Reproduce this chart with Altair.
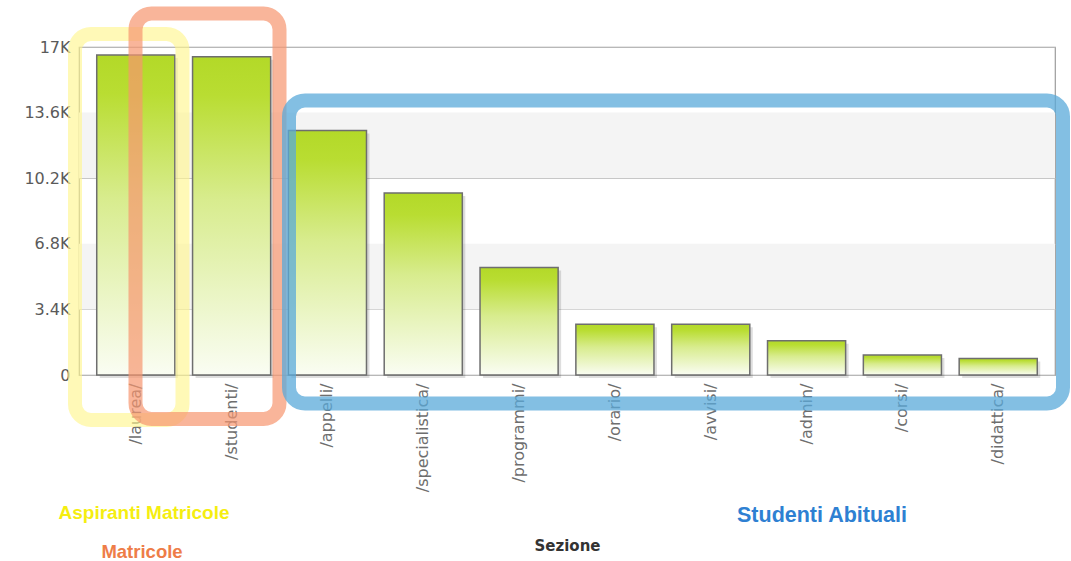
import altair as alt
import pandas as pd

# ---- data ----
sections = ["/laurea/", "/studenti/", "/appelli/", "/specialistica/", "/programmi/",
            "/orario/", "/avvisi/", "/admin/", "/corsi/", "/didattica/"]
visits = [16580, 16490, 12670, 9430, 5570, 2630, 2630, 1770, 1040, 850]
y_ticks = [0, 3400, 6800, 10200, 13600, 17000]
band_low = [3400, 10200]
band_high = [6800, 13600]
group_labels = ["Aspiranti Matricole", "Matricole", "Studenti Abituali"]
x_title = "Sezione"

df = pd.DataFrame({"sezione": sections, "visite": visits})
bands = pd.DataFrame({"lo": band_low, "hi": band_high})

W, H = 976, 328

x_enc = alt.X("sezione:N", sort=sections,
              scale=alt.Scale(paddingInner=0.185, paddingOuter=0.185),
              axis=alt.Axis(title=x_title, labelAngle=270, labelAlign="right",
                            labelBaseline="middle", labelPadding=8, ticks=False,
                            domain=False, grid=False, labelFontSize=16,
                            labelColor="#6e6e6e", labelFont="DejaVu Sans",
                            titleFont="DejaVu Sans", titleFontSize=15,
                            titleFontWeight="bold", titleColor="#333333",
                            titleY=175, titleBaseline="alphabetic"))
y_enc = alt.Y("visite:Q", scale=alt.Scale(domain=[0, 17000], nice=False),
              axis=alt.Axis(title=None, values=y_ticks, grid=True, gridColor="#b8b8b8",
                            ticks=False, domain=False, labelPadding=9,
                            labelFontSize=16, labelColor="#5a5a5a", labelFont="DejaVu Sans",
                            labelExpr="datum.value == 0 ? '0' : format(datum.value/1000, '.1~f') + 'K'"))

band_layer = alt.Chart(bands).mark_rect(color="#f4f4f4").encode(
    x=alt.value(0), x2=alt.value(W),
    y=alt.Y("lo:Q", scale=alt.Scale(domain=[0, 17000], nice=False)),
    y2="hi:Q")

grad = alt.Gradient(gradient="linear", x1=0, x2=0, y1=0, y2=1,
                    stops=[alt.GradientStop(color="#b3d928", offset=0),
                           alt.GradientStop(color="#b9dd32", offset=0.12),
                           alt.GradientStop(color="#d8ec8e", offset=0.45),
                           alt.GradientStop(color="#fafdf3", offset=1)])

shadow = alt.Chart(df).mark_bar(color="#000000", opacity=0.13, xOffset=3, yOffset=3).encode(
    x=x_enc, y=y_enc)
bars = alt.Chart(df).mark_bar(fill=grad, stroke="#6e6e6e", strokeWidth=1.5).encode(
    x=x_enc, y=y_enc)

one = pd.DataFrame({"k": [0]})

def box(x, x2, y, y2, color, op):
    return alt.Chart(one).mark_rect(filled=False, stroke=color, strokeWidth=14,
                                    strokeOpacity=op, cornerRadius=16).encode(
        x=alt.value(x), x2=alt.value(x2), y=alt.value(y), y2=alt.value(y2))

yellow_box = box(-4, 103.5, -13, 373, "#fff58a", 0.62)
salmon_box = box(56.5, 200.5, -33.5, 372, "#f6966f", 0.7)
blue_box = box(210, 984, 53.5, 356.5, "#5aaad9", 0.75)

def label(text, x, y, color, size):
    return alt.Chart(pd.DataFrame({"t": [text]})).mark_text(
        align="center", baseline="alphabetic", fontSize=size, fontWeight="bold",
        font="Liberation Sans", color=color).encode(
        x=alt.value(x), y=alt.value(y), text="t:N")

t1 = label(group_labels[0], 65, 472, "#f5ee10", 19)
t2 = label(group_labels[1], 63, 511, "#ee7d48", 18.5)
t3 = label(group_labels[2], 743, 475, "#2e80d2", 21.5)

chart = alt.layer(band_layer, shadow, bars, yellow_box, salmon_box, blue_box, t1, t2, t3).properties(
    width=W, height=H,
    autosize=alt.AutoSizeParams(type="none"),
    padding={"left": 79, "top": 47, "right": 16, "bottom": 186},
    background="white",
).configure_view(stroke="#9c9c9c", strokeWidth=1.2)

chart.save("out.html", embed_options={"renderer": "svg", "actions": False})
